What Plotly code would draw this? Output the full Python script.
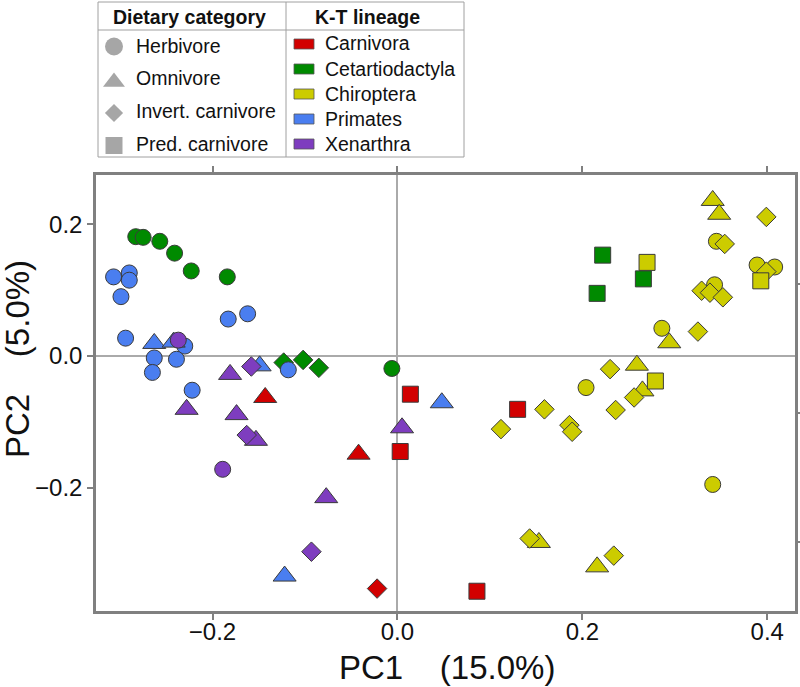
import plotly.graph_objects as go

W, H = 800, 687

# ---------------- data ----------------
lineages = ["Carnivora", "Cetartiodactyla", "Chiroptera", "Primates", "Xenarthra"]
diet_codes = ["H", "O", "I", "P"]
diet_names = ["Herbivore", "Omnivore", "Invert. carnivore", "Pred. carnivore"]

carnivora_pc1 = [-0.143, 0.014, 0.003, -0.042, 0.130, -0.022, 0.086]
carnivora_pc2 = [-0.063, -0.058, -0.145, -0.149, -0.081, -0.353, -0.357]
carnivora_diet = ["O", "P", "P", "O", "P", "I", "P"]

cetartiodactyla_pc1 = [-0.283, -0.275, -0.257, -0.241, -0.223, -0.184, -0.006,
                       -0.123, -0.102, -0.085, 0.222, 0.216, 0.266]
cetartiodactyla_pc2 = [0.181, 0.180, 0.174, 0.156, 0.129, 0.120, -0.019,
                       -0.010, -0.006, -0.018, 0.153, 0.095, 0.117]
cetartiodactyla_diet = ["H", "H", "H", "H", "H", "H", "H", "I", "I", "I", "P", "P", "P"]

chiroptera_pc1 = [0.204, 0.286, 0.345, 0.343, 0.389, 0.408, 0.341,
                  0.341, 0.348, 0.294, 0.259, 0.265, 0.153, 0.216,
                  0.399, 0.354, 0.399, 0.329, 0.338, 0.352, 0.325, 0.230,
                  0.256, 0.236, 0.159, 0.112, 0.186, 0.189, 0.143, 0.234,
                  0.270, 0.279, 0.393]
chiroptera_pc2 = [-0.048, 0.042, 0.174, 0.108, 0.138, 0.135, -0.195,
                  0.236, 0.215, 0.020, -0.014, -0.053, -0.283, -0.320,
                  0.211, 0.170, 0.128, 0.099, 0.096, 0.089, 0.037, -0.020,
                  -0.063, -0.082, -0.081, -0.111, -0.105, -0.115, -0.277, -0.303,
                  0.142, -0.038, 0.114]
chiroptera_diet = ["H"] * 7 + ["O"] * 7 + ["I"] * 16 + ["P"] * 3

primates_pc1 = [-0.307, -0.290, -0.290, -0.299, -0.183, -0.162, -0.294, -0.230,
                -0.263, -0.239, -0.265, -0.222, -0.118,
                -0.263, -0.242, -0.149, 0.048, -0.122]
primates_pc2 = [0.120, 0.126, 0.115, 0.090, 0.056, 0.064, 0.027, 0.015,
                -0.003, -0.005, -0.025, -0.052, -0.021,
                0.019, 0.021, -0.015, -0.071, -0.334]
primates_diet = ["H"] * 13 + ["O"] * 5

xenarthra_pc1 = [-0.237, -0.189, -0.181, -0.228, -0.174, -0.153, 0.005, -0.077,
                 -0.158, -0.163, -0.093]
xenarthra_pc2 = [0.024, -0.172, -0.028, -0.081, -0.089, -0.128, -0.109, -0.215,
                 -0.016, -0.120, -0.297]
xenarthra_diet = ["H", "H", "O", "O", "O", "O", "O", "O", "I", "I", "I"]

x_tick_vals = [-0.2, 0.0, 0.2, 0.4]
x_tick_text = ["\u22120.2", "0.0", "0.2", "0.4"]
y_tick_vals = [-0.2, 0.0, 0.2]
y_tick_text = ["\u22120.2", "0.0", "0.2"]
x_title = "PC1\u00a0\u00a0\u00a0\u00a0(15.0%)"
y_title = "PC2\u00a0\u00a0\u00a0\u00a0(5.0%)"
legend_diet_header = "Dietary category"
legend_lineage_header = "K-T lineage"

# ---------------- styles ----------------
FONT = "Liberation Sans, Arial, sans-serif"
lineage_colors = {
    "Carnivora": "#D20000",
    "Cetartiodactyla": "#008A00",
    "Chiroptera": "#CCCC00",
    "Primates": "#4A7EF0",
    "Xenarthra": "#7E3DBF",
}
diet_symbol = {"H": "circle", "O": "triangle-up", "I": "diamond", "P": "square"}
diet_size = {"H": 16, "O": 20, "I": 15, "P": 16}
AX = "#808080"


def fx(px):
    return px / W


def fy(py):
    return 1 - py / H


series = {
    "Carnivora": (carnivora_pc1, carnivora_pc2, carnivora_diet),
    "Cetartiodactyla": (cetartiodactyla_pc1, cetartiodactyla_pc2, cetartiodactyla_diet),
    "Chiroptera": (chiroptera_pc1, chiroptera_pc2, chiroptera_diet),
    "Primates": (primates_pc1, primates_pc2, primates_diet),
    "Xenarthra": (xenarthra_pc1, xenarthra_pc2, xenarthra_diet),
}

fig = go.Figure()
for name in lineages:
    xs, ys, ds = series[name]
    fig.add_trace(go.Scatter(
        x=xs, y=ys, mode="markers", name=name, showlegend=False,
        marker=dict(
            color=lineage_colors[name],
            symbol=[diet_symbol[d] for d in ds],
            size=[diet_size[d] for d in ds],
            opacity=1,
            line=dict(color="#3A3A3A", width=1),
        ),
        xaxis="x", yaxis="y", hoverinfo="skip",
    ))

# empty trace for the right-side tick axis
fig.add_trace(go.Scatter(x=[], y=[], xaxis="x", yaxis="y2", showlegend=False))

# ---------------- legend table (drawn in a full-figure pixel axis) ----------------
L_LEFT, L_RIGHT, L_TOP, L_BOT = 98, 464, 2, 157
L_DIV, L_HDR = 286, 30
diet_sym_x = 114
diet_sym_y = [46.5, 82, 113, 145.5]
diet_text_y = [46, 77.5, 111.5, 144]
legend_sym_size = {"H": 18, "O": 19, "I": 14, "P": 17}

fig.add_trace(go.Scatter(
    x=[diet_sym_x] * 4, y=diet_sym_y, mode="markers", showlegend=False,
    marker=dict(color="#A6A6A6", symbol=[diet_symbol[d] for d in diet_codes],
                size=[legend_sym_size[d] for d in diet_codes], opacity=1, line=dict(width=0)),
    xaxis="x3", yaxis="y3", hoverinfo="skip",
))

shapes = [
    dict(type="rect", xref="paper", yref="paper", x0=fx(L_LEFT), x1=fx(L_RIGHT),
         y0=fy(L_TOP), y1=fy(L_BOT), line=dict(color="#A0A0A0", width=1), layer="above"),
    dict(type="line", xref="paper", yref="paper", x0=fx(L_LEFT), x1=fx(L_RIGHT),
         y0=fy(L_HDR), y1=fy(L_HDR), line=dict(color="#A0A0A0", width=1)),
    dict(type="line", xref="paper", yref="paper", x0=fx(L_DIV), x1=fx(L_DIV),
         y0=fy(L_TOP), y1=fy(L_BOT), line=dict(color="#A0A0A0", width=1)),
]
annotations = [
    dict(text="<b>%s</b>" % legend_diet_header, x=fx(189), y=fy(16.5), xref="paper", yref="paper",
         showarrow=False, xanchor="center", yanchor="middle", font=dict(size=19.5, family=FONT, color="#111")),
    dict(text="<b>%s</b>" % legend_lineage_header, x=fx(367), y=fy(16.5), xref="paper", yref="paper",
         showarrow=False, xanchor="center", yanchor="middle", font=dict(size=19.5, family=FONT, color="#111")),
]
for nm, ty in zip(diet_names, diet_text_y):
    annotations.append(dict(text=nm, x=fx(134), y=fy(ty), xref="paper", yref="paper", showarrow=False,
                            xanchor="left", yanchor="middle", font=dict(size=19.5, family=FONT, color="#111")))
lin_y = [44, 69, 94, 119, 144]
for nm, ly in zip(lineages, lin_y):
    shapes.append(dict(type="rect", xref="paper", yref="paper", x0=fx(294), x1=fx(314),
                       y0=fy(ly - 5), y1=fy(ly + 5), fillcolor=lineage_colors[nm],
                       line=dict(color="#555555", width=0.8)))
    annotations.append(dict(text=nm, x=fx(323), y=fy(ly - 0.5), xref="paper", yref="paper", showarrow=False,
                            xanchor="left", yanchor="middle", font=dict(size=19.5, family=FONT, color="#111")))

# axis titles
annotations.append(dict(text=x_title, x=fx(447), y=fy(667), xref="paper", yref="paper", showarrow=False,
                        xanchor="center", yanchor="middle", font=dict(size=33, family=FONT, color="#111")))
annotations.append(dict(text=y_title, x=fx(17), y=fy(359), xref="paper", yref="paper", showarrow=False,
                        textangle=-90, xanchor="center", yanchor="middle",
                        font=dict(size=33, family=FONT, color="#111")))

P_L, P_R, P_T, P_B = 96, 795, 175, 611

fig.update_layout(
    width=W, height=H,
    margin=dict(l=0, r=0, t=0, b=0),
    paper_bgcolor="white", plot_bgcolor="rgba(0,0,0,0)",
    showlegend=False,
    font=dict(family=FONT, color="#111"),
    xaxis=dict(domain=[fx(P_L), fx(P_R)], range=[-0.326, 0.430], anchor="y",
               tickvals=x_tick_vals, ticktext=x_tick_text, ticks="outside", ticklen=6,
               tickwidth=2, tickcolor=AX, showline=True, linecolor=AX, linewidth=2.5,
               mirror="ticks", zeroline=True, zerolinecolor="#AAAAAA", zerolinewidth=2,
               showgrid=False, ticklabelstandoff=-9,
               tickfont=dict(size=24, family=FONT, color="#111")),
    yaxis=dict(domain=[fy(P_B), fy(P_T)], range=[-0.387, 0.2746], anchor="x",
               tickvals=y_tick_vals, ticktext=y_tick_text, ticks="outside", ticklen=6,
               tickwidth=2, tickcolor=AX, showline=True, linecolor=AX, linewidth=2.5,
               mirror=True, zeroline=True, zerolinecolor="#AAAAAA", zerolinewidth=2,
               showgrid=False, tickfont=dict(size=24, family=FONT, color="#111")),
    yaxis2=dict(overlaying="y", side="right", anchor="x", range=[-1.539, 1.85],
                tickvals=[-1, 0, 1], showticklabels=False, ticks="outside", ticklen=6,
                tickwidth=2, tickcolor=AX, showline=False, showgrid=False, zeroline=False),
    xaxis3=dict(domain=[0, 1], range=[0, W], anchor="y3", visible=False, fixedrange=True),
    yaxis3=dict(domain=[0, 1], range=[H, 0], anchor="x3", visible=False, fixedrange=True),
    shapes=shapes,
    annotations=annotations,
)

fig.write_html("out.html", config={"displayModeBar": False},
               post_script="document.body.style.margin='0px';document.body.style.overflow='hidden';")
